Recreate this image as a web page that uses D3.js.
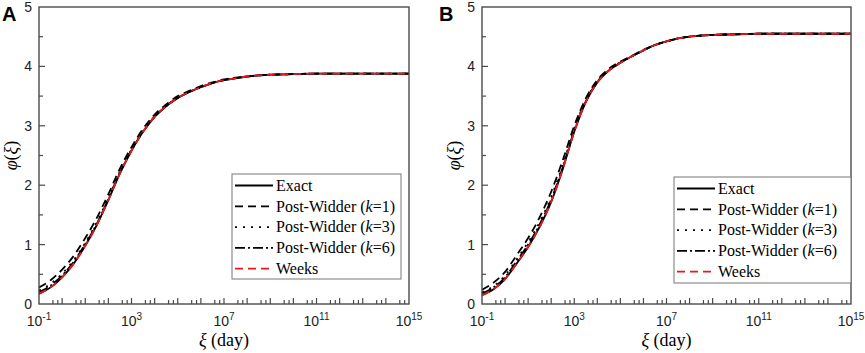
<!DOCTYPE html>
<html>
<head>
<meta charset="utf-8">
<script src="https://cdn.jsdelivr.net/npm/d3@7"></script>
<style>
  body { margin: 0; background: #fff; }
  svg { display: block; }
</style>
</head>
<body>
<div id="chart"></div>
<script>
// exponents of xi (day), read at these points
const xiExp = [-1, -0.5, 0, 0.5, 1, 1.5, 2, 2.5, 3, 3.5, 4, 4.5, 5, 5.5, 6, 6.5, 7, 7.5, 8, 9, 10, 11, 13, 15];

// panel A
const exactA = [0.17, 0.28, 0.45, 0.68, 0.98, 1.33, 1.75, 2.2, 2.58, 2.9, 3.15, 3.33, 3.47, 3.57, 3.65, 3.72, 3.77, 3.80, 3.83, 3.86, 3.87, 3.88, 3.88, 3.88];
const pw1A   = [0.28, 0.40, 0.58, 0.81, 1.11, 1.45, 1.85, 2.28, 2.64, 2.95, 3.19, 3.36, 3.50, 3.59, 3.67, 3.73, 3.78, 3.81, 3.83, 3.86, 3.87, 3.88, 3.88, 3.88];
const pw3A   = [0.23, 0.34, 0.51, 0.74, 1.03, 1.38, 1.79, 2.23, 2.60, 2.91, 3.16, 3.34, 3.47, 3.57, 3.65, 3.72, 3.77, 3.80, 3.83, 3.86, 3.87, 3.88, 3.88, 3.88];
const pw6A   = [0.20, 0.31, 0.48, 0.71, 1.01, 1.35, 1.77, 2.21, 2.59, 2.90, 3.15, 3.33, 3.47, 3.57, 3.65, 3.72, 3.77, 3.80, 3.83, 3.86, 3.87, 3.88, 3.88, 3.88];
const weeksA = exactA.slice();

// panel B
const exactB = [0.15, 0.25, 0.42, 0.68, 0.96, 1.30, 1.72, 2.27, 2.90, 3.40, 3.73, 3.93, 4.06, 4.17, 4.27, 4.36, 4.42, 4.47, 4.50, 4.53, 4.54, 4.55, 4.55, 4.55];
const pw1B   = [0.24, 0.36, 0.54, 0.82, 1.11, 1.46, 1.89, 2.42, 3.00, 3.46, 3.77, 3.96, 4.08, 4.18, 4.28, 4.36, 4.42, 4.47, 4.50, 4.53, 4.54, 4.55, 4.55, 4.55];
const pw3B   = [0.20, 0.30, 0.48, 0.75, 1.04, 1.38, 1.80, 2.34, 2.95, 3.43, 3.75, 3.94, 4.07, 4.17, 4.27, 4.36, 4.42, 4.47, 4.50, 4.53, 4.54, 4.55, 4.55, 4.55];
const pw6B   = [0.18, 0.28, 0.45, 0.72, 1.00, 1.34, 1.76, 2.30, 2.92, 3.41, 3.74, 3.93, 4.06, 4.17, 4.27, 4.36, 4.42, 4.47, 4.50, 4.53, 4.54, 4.55, 4.55, 4.55];
const weeksB = exactB.slice();

const xTickExp = [-1, 3, 7, 11, 15];
const yTicks = [0, 1, 2, 3, 4, 5];
const legendNames = ["Exact", "Post-Widder (k=1)", "Post-Widder (k=3)", "Post-Widder (k=6)", "Weeks"];

const styles = [
    {color: "#000", dash: null},
    {color: "#000", dash: "8,5"},
    {color: "#000", dash: "2,6"},
    {color: "#000", dash: "10,3,2,3"},
    {color: "#e8191c", dash: "8,5"}
];

const panels = [
    {label: "A", left: 39, right: 409, series: [exactA, pw1A, pw3A, pw6A, weeksA],
     legend: {x: 232, y: 174, w: 169, h: 105}, ytx: 17},
    {label: "B", left: 482, right: 851, series: [exactB, pw1B, pw3B, pw6B, weeksB],
     legend: {x: 674, y: 177, w: 177, h: 106}, ytx: 460}
];

const plotTop = 7, plotBottom = 304;
const axisColor = "#4a4a4a";

const svg = d3.select("#chart").append("svg")
    .attr("width", 865)
    .attr("height", 353);

panels.forEach(function (p) {
    let x = d3.scaleLog().domain([1e-1, 1e15]).range([p.left, p.right]);
    let y = d3.scaleLinear().domain([0, 5]).range([plotBottom, plotTop]);

    let g = svg.append("g");

    // curves, red one on top
    let line = d3.line()
        .x((d, i) => x(Math.pow(10, xiExp[i])))
        .y(d => y(d))
        .curve(d3.curveMonotoneX);

    [0, 1, 2, 3, 4].forEach(function (k) {
        g.append("path")
            .datum(p.series[k])
            .attr("fill", "none")
            .attr("stroke", styles[k].color)
            .attr("stroke-width", 1.8)
            .attr("stroke-dasharray", styles[k].dash)
            .attr("d", line);
    });

    // frame
    g.append("rect")
        .attr("x", p.left).attr("y", plotTop)
        .attr("width", p.right - p.left).attr("height", plotBottom - plotTop)
        .attr("fill", "none")
        .attr("stroke", axisColor)
        .attr("stroke-width", 1.4);

    // x ticks: tall at decades, small ones inside each decade
    for (let e = -1; e <= 15; e++) {
        let xx = x(Math.pow(10, e));
        if (e > -1 && e < 15) {
            g.append("line")
                .attr("x1", xx).attr("x2", xx)
                .attr("y1", plotBottom).attr("y2", plotBottom - 6)
                .attr("stroke", axisColor).attr("stroke-width", 1.2);
        }
        if (e < 15) {
            [4, 6.5].forEach(function (m) {
                let xm = x(m * Math.pow(10, e));
                g.append("line")
                    .attr("x1", xm).attr("x2", xm)
                    .attr("y1", plotBottom).attr("y2", plotBottom - 4)
                    .attr("stroke", axisColor).attr("stroke-width", 1.2);
            });
        }
    }

    xTickExp.forEach(function (e) {
        let t = g.append("text")
            .attr("x", x(Math.pow(10, e)))
            .attr("y", 326)
            .attr("text-anchor", "middle")
            .style("font-family", "Liberation Sans, Arial, sans-serif")
            .style("font-size", "14px")
            .attr("fill", "#222");
        t.append("tspan").text("10");
        t.append("tspan").attr("dy", -6).style("font-size", "10px").text(e);
    });

    // y ticks
    d3.range(0, 5.01, 0.5).forEach(function (v) {
        if (v === 0 || v === 5) return;
        let major = Number.isInteger(v);
        g.append("line")
            .attr("x1", p.left).attr("x2", p.left + (major ? 6 : 4))
            .attr("y1", y(v)).attr("y2", y(v))
            .attr("stroke", axisColor).attr("stroke-width", 1.2);
    });

    yTicks.forEach(function (v) {
        g.append("text")
            .attr("x", p.left - 7)
            .attr("y", y(v))
            .attr("dy", "0.36em")
            .attr("text-anchor", "end")
            .style("font-family", "Liberation Sans, Arial, sans-serif")
            .style("font-size", "14px")
            .attr("fill", "#222")
            .text(v);
    });

    // axis titles
    let xt = g.append("text")
        .attr("x", (p.left + p.right) / 2)
        .attr("y", 346)
        .attr("text-anchor", "middle")
        .style("font-family", "Liberation Serif, Times New Roman, serif")
        .style("font-size", "18px");
    xt.append("tspan").style("font-style", "italic").text("ξ");
    xt.append("tspan").text("  (day)");

    let yt = g.append("text")
        .attr("transform", "translate(" + p.ytx + "," + ((plotTop + plotBottom) / 2) + ") rotate(-90)")
        .attr("text-anchor", "middle")
        .style("font-family", "Liberation Serif, Times New Roman, serif")
        .style("font-size", "18px");
    yt.append("tspan").style("font-style", "italic").text("φ");
    yt.append("tspan").text("(");
    yt.append("tspan").style("font-style", "italic").text("ξ");
    yt.append("tspan").text(")");

    // panel letter
    g.append("text")
        .attr("x", p.label === "A" ? 2 : 439)
        .attr("y", 21)
        .style("font-family", "Liberation Sans, Arial, sans-serif")
        .style("font-size", "20px")
        .style("font-weight", "bold")
        .text(p.label);

    // legend
    let L = p.legend;
    g.append("rect")
        .attr("x", L.x).attr("y", L.y)
        .attr("width", L.w).attr("height", L.h)
        .attr("fill", "#fff")
        .attr("stroke", "#777")
        .attr("stroke-width", 1);

    legendNames.forEach(function (name, k) {
        let ry = L.y + 11.5 + k * 20.8;
        g.append("line")
            .attr("x1", L.x + 3).attr("x2", L.x + 41)
            .attr("y1", ry).attr("y2", ry)
            .attr("stroke", styles[k].color)
            .attr("stroke-width", 1.8)
            .attr("stroke-dasharray", styles[k].dash);
        let t = g.append("text")
            .attr("x", L.x + 44)
            .attr("y", ry)
            .attr("dy", "0.33em")
            .style("font-family", "Liberation Serif, Times New Roman, serif")
            .style("font-size", "16px");
        let m = name.match(/^(.*\()k(=\d\))$/);
        if (m) {
            t.append("tspan").text(m[1]);
            t.append("tspan").style("font-style", "italic").text("k");
            t.append("tspan").text(m[2]);
        } else {
            t.text(name);
        }
    });
});
</script>
</body>
</html>
